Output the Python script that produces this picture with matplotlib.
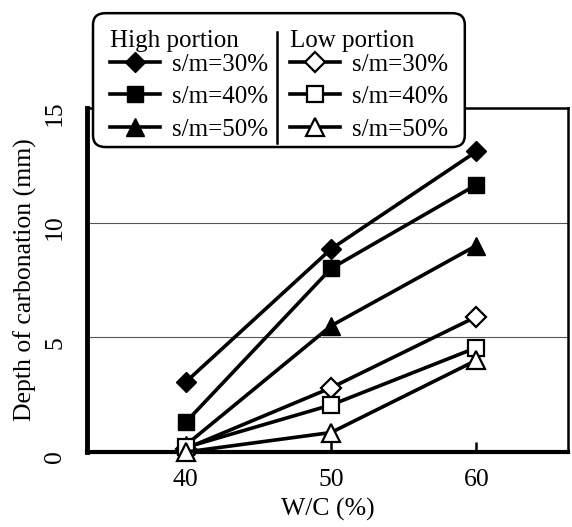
import matplotlib
matplotlib.use("Agg")
from matplotlib import pyplot as plt
from matplotlib.lines import Line2D
from matplotlib.patches import FancyBboxPatch
from matplotlib.transforms import ScaledTranslation

plt.rcParams['font.family'] = ['Liberation Serif', 'DejaVu Serif']

# data
wc = [40, 50, 60]
high_30 = [3.05, 8.85, 13.1]
high_40 = [1.3, 8.0, 11.65]
high_50 = [0.3, 5.5, 9.0]
low_30 = [0.15, 2.8, 5.9]
low_40 = [0.2, 2.05, 4.55]
low_50 = [0.0, 0.85, 4.0]
labels = ["s/m=30%", "s/m=40%", "s/m=50%"]

fig = plt.figure(figsize=(5.72, 5.27), dpi=100)
ax = fig.add_axes([0.152, 0.1423, 0.841, 0.653])

markers = ["D", "s", "^"]
msizes = [10, 11, 13]
high = [high_30, high_40, high_50]
low = [low_30, low_40, low_50]

h_handles = []
l_handles = []
for y, m, ms in zip(high, markers, msizes):
    ln, = ax.plot(wc, y, color="black", lw=2.6, marker=m, ms=ms,
                  mfc="black", mec="black", clip_on=False, zorder=3)
    h_handles.append(ln)
for y, m, ms in zip(low, markers, msizes):
    ln, = ax.plot(wc, y, color="black", lw=2.6, marker=m, ms=ms,
                  mfc="white", mec="black", mew=1.6, clip_on=False, zorder=3)
    l_handles.append(ln)

ax.set_xlim(33.2, 66.3)
ax.set_ylim(0, 15)
ax.set_xticks(wc)
ax.set_yticks([0, 5, 10, 15])
ax.tick_params(axis="x", direction="in", length=7, width=1.8, labelsize=18.5, pad=12)
ax.tick_params(axis="y", length=0, labelsize=18.5, pad=15, labelrotation=90)
shift = ScaledTranslation(0, -0.05, fig.dpi_scale_trans)
for t in ax.get_yticklabels():
    t.set_va("center")
    t.set_transform(t.get_transform() + shift)
ax.grid(axis="y", color="#555555", lw=0.8)
for s in ax.spines.values():
    s.set_linewidth(1.8)
ax.spines["left"].set_linewidth(3.5)
ax.spines["bottom"].set_linewidth(3.0)

ax.set_xlabel("W/C (%)", fontsize=18.5, labelpad=5)
ax.set_ylabel("Depth of carbonation (mm)", fontsize=18.5, labelpad=5)

# legend: rounded box with two titled columns
box = FancyBboxPatch((0.1626, 0.721), 0.650, 0.254, transform=fig.transFigure,
                     boxstyle="round,pad=0,rounding_size=0.022", fc="white",
                     ec="black", lw=1.8, zorder=5)
fig.patches.append(box)
kw = dict(loc="upper left", frameon=False, fontsize=18, handlelength=2.0,
          handletextpad=0.48, labelspacing=0.4, borderpad=0, borderaxespad=0)
leg1 = fig.legend(h_handles, labels, bbox_to_anchor=(0.1923, 0.899), **kw)
leg2 = fig.legend(l_handles, labels, bbox_to_anchor=(0.507, 0.899), **kw)
for lg in (leg1, leg2):
    lg.set_zorder(6)
fig.text(0.1923, 0.9108, "High portion", fontsize=18, va="baseline", zorder=6)
fig.text(0.507, 0.9108, "Low portion", fontsize=18, va="baseline", zorder=6)
fig.lines.append(Line2D([0.484, 0.484], [0.7287, 0.939], transform=fig.transFigure,
                        color="black", lw=1.8, zorder=6))

fig.savefig("out.png", dpi=100)
